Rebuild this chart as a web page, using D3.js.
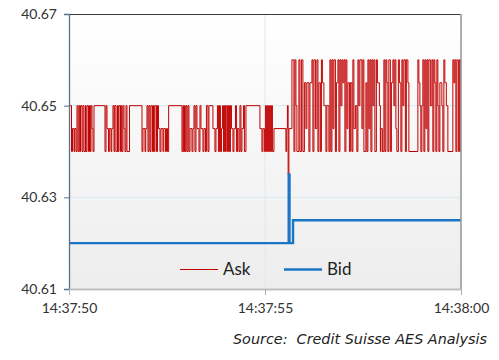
<!DOCTYPE html>
<html>
<head>
<meta charset="utf-8">
<script src="https://cdn.jsdelivr.net/npm/d3@7"></script>
<style>
  html, body { margin: 0; padding: 0; background: #ffffff; }
  svg { display: block; }
</style>
</head>
<body>
<svg id="chart" width="499" height="360"></svg>
<script>
// ---- data ----
const startTime = "14:37:50";
const endTime = "14:38:00";
const xTickLabels = ["14:37:50", "14:37:55", "14:38:00"];
const yTickValues = [40.61, 40.63, 40.65, 40.67];
const seriesNames = ["Ask", "Bid"];
// [milliseconds after 14:37:50, price]
const askTicks = [
  [0,40.65],[64,40.64],[89,40.645],[128,40.64],[145,40.645],[179,40.64],[204,40.65],[230,40.64],
  [255,40.65],[275,40.64],[293,40.65],[332,40.64],[357,40.65],[383,40.64],[421,40.65],[434,40.64],
  [459,40.65],[497,40.64],[523,40.65],[543,40.64],[561,40.65],[587,40.645],[612,40.64],[638,40.65],
  [918,40.64],[944,40.65],[969,40.645],[1007,40.64],[1028,40.645],[1071,40.64],[1091,40.645],[1122,40.65],
  [1148,40.64],[1168,40.65],[1199,40.64],[1237,40.65],[1257,40.64],[1275,40.65],[1313,40.64],[1334,40.65],
  [1352,40.64],[1377,40.65],[1403,40.645],[1428,40.64],[1454,40.65],[1479,40.64],[1543,40.65],
  [1862,40.64],[1887,40.645],[1938,40.64],[1958,40.645],[1989,40.65],[2015,40.64],[2040,40.65],[2066,40.64],
  [2091,40.65],[2129,40.64],[2155,40.65],[2173,40.64],[2193,40.65],[2231,40.64],[2257,40.65],[2282,40.645],
  [2321,40.64],[2346,40.645],[2397,40.64],[2417,40.645],[2461,40.64],[2486,40.645],[2512,40.64],[2542,40.65],
  [2882,40.64],[2907,40.65],[2925,40.64],[2945,40.65],[2963,40.64],[2984,40.65],[3009,40.64],[3035,40.65],
  [3060,40.64],[3086,40.645],[3137,40.64],[3162,40.645],[3188,40.65],[3213,40.64],[3239,40.65],[3264,40.645],
  [3315,40.64],[3341,40.65],[3366,40.645],[3417,40.64],[3443,40.645],[3481,40.64],[3506,40.65],[3545,40.64],
  [3570,40.65],[3672,40.645],[3723,40.64],[3749,40.645],[3787,40.65],[3812,40.64],[3838,40.65],[3863,40.64],
  [3889,40.645],[3914,40.65],[3940,40.64],[3965,40.65],[3991,40.64],[4011,40.65],[4042,40.64],[4067,40.65],
  [4093,40.64],[4118,40.65],[4144,40.645],[4182,40.64],[4208,40.645],[4246,40.65],[4271,40.64],[4297,40.645],
  [4335,40.64],[4361,40.65],[4386,40.64],[4412,40.645],[4450,40.65],[4475,40.64],[4514,40.65],
  [4871,40.645],[4922,40.64],[4947,40.645],[4985,40.64],[5011,40.65],[5036,40.64],[5062,40.65],[5087,40.64],
  [5113,40.65],[5138,40.64],[5164,40.65],[5189,40.64],[5228,40.645],[5534,40.64],[5554,40.645],[5572,40.65],
  [5590,40.635],[5610,40.645],[5687,40.66],
  [5738,40.64],[5763,40.66],[5789,40.65],[5814,40.64],[5865,40.66],[5891,40.64],[5929,40.66],[5967,40.64],
  [6005,40.655],[6044,40.645],[6069,40.655],[6120,40.64],[6146,40.655],[6197,40.66],[6222,40.64],[6248,40.66],
  [6286,40.645],[6324,40.66],[6350,40.64],[6375,40.655],[6413,40.64],[6439,40.66],[6464,40.655],[6503,40.65],
  [6554,40.64],[6579,40.65],[6630,40.64],[6656,40.66],[6681,40.64],[6707,40.66],[6732,40.645],[6758,40.66],
  [6796,40.64],[6821,40.655],[6860,40.66],[6885,40.64],[6911,40.66],[6936,40.65],[6962,40.66],[6987,40.655],
  [7013,40.66],[7038,40.64],[7064,40.66],[7089,40.645],[7115,40.655],[7153,40.64],[7178,40.655],[7217,40.64],
  [7242,40.66],[7268,40.645],[7306,40.65],[7344,40.64],[7370,40.66],[7395,40.65],[7421,40.66],[7472,40.645],
  [7497,40.66],[7523,40.64],[7574,40.655],[7599,40.64],[7625,40.66],[7650,40.645],[7676,40.66],[7701,40.64],
  [7727,40.66],[7752,40.65],[7778,40.66],[7803,40.64],[7841,40.66],[7867,40.655],[7918,40.65],[7943,40.64],
  [7956,40.645],[7994,40.64],[8033,40.66],[8058,40.64],[8084,40.66],[8109,40.655],[8135,40.64],[8160,40.66],
  [8198,40.64],[8224,40.655],[8262,40.66],[8288,40.65],[8313,40.66],[8339,40.645],[8364,40.64],[8402,40.66],
  [8428,40.655],[8466,40.64],[8492,40.66],[8517,40.65],[8543,40.66],[8581,40.64],[8606,40.66],[8645,40.655],
  [8670,40.64],[8900,40.66],[8925,40.655],[8951,40.65],[8976,40.64],[9002,40.65],[9027,40.66],[9053,40.64],
  [9078,40.66],[9104,40.645],[9129,40.66],[9155,40.64],[9180,40.66],[9218,40.65],[9257,40.66],[9282,40.64],
  [9308,40.66],[9333,40.655],[9359,40.64],[9384,40.66],[9410,40.65],[9435,40.64],[9461,40.655],[9512,40.65],
  [9537,40.64],[9563,40.66],[9588,40.655],[9626,40.65],[9665,40.64],[9792,40.66],[9818,40.655],[9843,40.66],
  [9869,40.64],[9894,40.66],[9932,40.64],[9958,40.66],[9983,40.64],[10000,40.64]
];
const bidTicks = [
  [0,40.62],[5605,40.635],[5625,40.62],[5715,40.625],[10000,40.625]
];
const sourceText = "Source:  Credit Suisse AES Analysis";

// ---- layout ----
const svg = d3.select("#chart");
const margin = {left: 69, right: 38, top: 14, bottom: 71};
const W = 499, H = 360;
const plotW = W - margin.left - margin.right;
const plotH = H - margin.top - margin.bottom;

const parse = d3.timeParse("%H:%M:%S");
const t0 = parse(startTime), t1 = parse(endTime);
const x = d3.scaleTime().domain([t0, t1]).range([margin.left, margin.left + plotW]);
const y = d3.scaleLinear().domain([40.61, 40.67]).range([margin.top + plotH, margin.top]);
const toDate = ms => new Date(t0.getTime() + ms);

// gradient background
const defs = svg.append("defs");
const grad = defs.append("linearGradient").attr("id", "bg").attr("x1", 0).attr("y1", 0).attr("x2", 0).attr("y2", 1);
grad.append("stop").attr("offset", "0%").attr("stop-color", "#ffffff");
grad.append("stop").attr("offset", "100%").attr("stop-color", "#ededed");
svg.append("rect").attr("x", margin.left).attr("y", margin.top)
  .attr("width", plotW).attr("height", plotH).attr("fill", "url(#bg)");

// gridlines
const gridColor = "#d8eaf2";
svg.append("g").selectAll("line").data([40.63, 40.65]).join("line")
  .attr("x1", margin.left).attr("x2", margin.left + plotW)
  .attr("y1", d => y(d)).attr("y2", d => y(d))
  .attr("stroke", gridColor).attr("stroke-width", 1);
svg.append("line")
  .attr("x1", x(parse(xTickLabels[1]))).attr("x2", x(parse(xTickLabels[1])))
  .attr("y1", margin.top).attr("y2", margin.top + plotH)
  .attr("stroke", gridColor).attr("stroke-width", 1);

// series
const line = d3.line().curve(d3.curveStepAfter)
  .x(d => x(toDate(d[0]))).y(d => y(d[1]));
svg.append("path").datum(askTicks).attr("d", line)
  .attr("fill", "none").attr("stroke", "#c00000").attr("stroke-width", 1);
svg.append("path").datum(bidTicks).attr("d", line)
  .attr("fill", "none").attr("stroke", "#1a75c4").attr("stroke-width", 2.4);

// frame
svg.append("line").attr("x1", margin.left).attr("x2", margin.left + plotW)
  .attr("y1", margin.top + 0.5).attr("y2", margin.top + 0.5).attr("stroke", "#3a3a3a").attr("stroke-width", 1.2);
svg.append("line").attr("x1", margin.left + plotW).attr("x2", margin.left + plotW)
  .attr("y1", margin.top).attr("y2", margin.top + plotH).attr("stroke", "#9a9a9a").attr("stroke-width", 1.6);

// axes
const fontFam = "Lato, 'Open Sans', 'Liberation Sans', sans-serif";
const yAxis = d3.axisLeft(y).tickValues(yTickValues).tickFormat(d3.format(".2f")).tickSize(5).tickPadding(7);
const gy = svg.append("g").attr("transform", `translate(${margin.left},0)`).call(yAxis);
gy.select(".domain").attr("stroke", "#5a7090").attr("stroke-width", 1.3);
gy.selectAll(".tick line").attr("stroke", "#5a7090");
gy.selectAll("text").attr("font-family", fontFam).attr("font-size", 14).attr("fill", "#333");

const xAxis = d3.axisBottom(x).tickValues(xTickLabels.map(parse)).tickFormat(d3.timeFormat("%H:%M:%S"))
  .tickSize(6).tickSizeOuter(0).tickPadding(8);
const gx = svg.append("g").attr("transform", `translate(0,${margin.top + plotH})`).call(xAxis);
gx.select(".domain").attr("stroke", "#c0c0c0").attr("stroke-width", 2);
gx.selectAll(".tick line").attr("stroke", "#b0b0b0");
gx.selectAll("text").attr("font-family", fontFam).attr("font-size", 14).attr("fill", "#333");

// legend
const legend = svg.append("g");
const legItems = [
  {name: seriesNames[0], color: "#c00000", w: 1.2, x0: 180},
  {name: seriesNames[1], color: "#1a75c4", w: 2.4, x0: 284}
];
legItems.forEach(d => {
  legend.append("line").attr("x1", d.x0).attr("x2", d.x0 + 38).attr("y1", 269.5).attr("y2", 269.5)
    .attr("stroke", d.color).attr("stroke-width", d.w);
  legend.append("text").attr("x", d.x0 + 43).attr("y", 275).text(d.name)
    .attr("font-family", fontFam).attr("font-size", 17).attr("fill", "#222");
});

// source
svg.append("text").attr("x", 233).attr("y", 344)
  .attr("font-family", "'DejaVu Sans', 'Open Sans', sans-serif").attr("font-style", "italic")
  .attr("font-size", 13.2).attr("fill", "#222")
  .attr("textLength", 254).attr("lengthAdjust", "spacingAndGlyphs")
  .attr("xml:space", "preserve").text(sourceText);
</script>
</body>
</html>
